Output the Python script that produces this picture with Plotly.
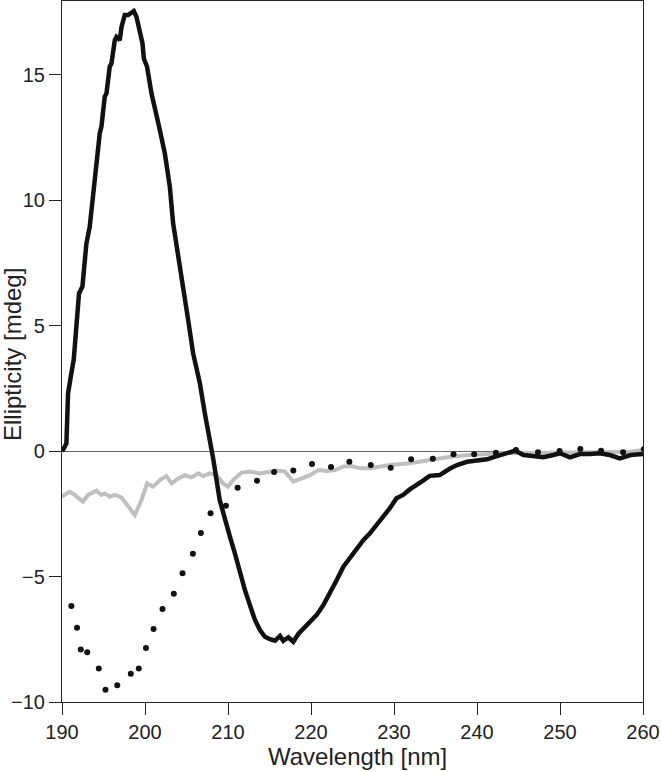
import plotly.graph_objects as go

# Solid black curve (wavelength nm, ellipticity mdeg)
black_x = [190.0, 190.12, 190.53, 190.73, 191.13, 191.41, 191.73, 192.05, 192.46, 192.94, 193.34,
           193.74, 194.07, 194.55, 194.75, 195.15, 195.36, 195.75, 195.96, 196.36, 196.56,
           196.96, 197.17, 197.56, 197.96, 198.25, 198.65, 198.97, 199.37, 199.7, 199.86,
           200.25, 200.78, 201.39, 201.7, 202.39, 202.99, 203.39, 203.99, 204.6, 205.2,
           205.8, 206.61, 207.21, 207.82, 208.21, 209.0, 209.8, 210.23, 210.83, 211.44,
           212.04, 212.64, 213.25, 213.85, 214.45, 215.05, 215.66, 216.26, 216.66, 217.27,
           217.87, 218.47, 219.07, 219.88, 220.69, 221.49, 222.29, 223.1, 223.9, 224.7,
           225.5, 226.3, 227.1, 227.9, 228.7, 229.5, 230.3, 231.1, 231.9, 232.7, 233.5,
           234.3, 235.5, 236.8, 237.6, 238.8, 240.0, 241.2, 242.4, 243.6, 244.6, 245.6,
           246.8, 248.0, 249.2, 250.0, 251.2, 252.4, 253.6, 254.8, 256.0, 257.2, 258.5, 260.0]
black_y = [0.0, 0.04, 0.3, 2.3, 3.1, 3.63, 4.95, 6.28, 6.55, 8.27, 8.94,
           10.27, 10.93, 12.66, 12.92, 14.12, 14.25, 15.31, 15.45, 16.37, 16.5,
           16.37, 16.9, 17.37, 17.37, 17.46, 17.53, 17.3, 16.77, 16.24, 15.64,
           15.31, 14.25, 13.45, 12.92, 11.86, 10.53, 9.07, 7.88, 6.55, 5.22,
           3.89, 2.7, 1.5, 0.44, -0.29, -1.95, -3.02, -3.41, -4.08, -4.87,
           -5.54, -6.14, -6.73, -7.13, -7.4, -7.5, -7.56, -7.37, -7.56, -7.42,
           -7.6, -7.29, -7.1, -6.8, -6.53, -6.14, -5.67, -5.14, -4.61, -4.27,
           -3.88, -3.55, -3.28, -2.95, -2.62, -2.28, -1.88, -1.75, -1.53, -1.33, -1.18,
           -0.99, -0.96, -0.69, -0.56, -0.43, -0.36, -0.33, -0.2, -0.09, 0.01, -0.16,
           -0.2, -0.25, -0.16, -0.09, -0.25, -0.12, -0.12, -0.09, -0.16, -0.29, -0.16, -0.12]

# Gray noisy curve
gray_x = [190.0, 190.93, 191.53, 192.53, 193.14, 194.15, 194.75, 195.15, 195.75, 196.36, 197.16,
          197.96, 198.77, 199.58, 200.25, 200.98, 201.79, 202.59, 203.2, 204.0, 204.8,
          205.6, 206.4, 207.0, 207.8, 208.6, 209.42, 210.0, 210.6, 211.64, 212.64,
          213.85, 214.85, 215.86, 216.86, 217.87, 218.88, 219.88, 220.88, 221.9, 222.9,
          223.9, 224.9, 225.9, 227.1, 229.5, 231.9, 234.3, 236.8, 239.2, 241.6,
          244.0, 246.5, 249.0, 251.5, 254.0, 256.5, 258.5, 260.0]
gray_y = [-1.82, -1.62, -1.75, -2.02, -1.75, -1.58, -1.75, -1.69, -1.82, -1.75, -1.85,
          -2.22, -2.55, -1.95, -1.29, -1.42, -1.16, -1.0, -1.29, -1.09, -0.96,
          -1.05, -0.89, -1.0, -0.89, -0.96, -1.29, -1.42, -1.16, -0.86, -0.82,
          -0.89, -0.82, -0.78, -0.82, -1.22, -1.09, -0.96, -0.76, -0.8, -0.76,
          -0.62, -0.6, -0.69, -0.69, -0.56, -0.49, -0.35, -0.23, -0.16, -0.12,
          -0.07, -0.08, -0.06, -0.06, -0.05, -0.04, -0.03, 0.04]

# Dotted series
dot_x = [191.13, 191.81, 192.26, 193.04, 194.43, 195.24, 196.66, 198.29, 199.25, 200.12,
         201.03, 202.11, 203.47, 204.52, 205.77, 206.73, 207.9, 209.75, 211.16, 213.49,
         215.56, 217.87, 220.12, 222.41, 224.62, 227.2, 229.6, 232.06, 234.68, 237.17,
         239.66, 242.28, 244.69, 247.35, 249.95, 252.45, 254.95, 257.6, 260.09]
dot_y = [-6.18, -7.04, -7.91, -8.02, -8.67, -9.51, -9.33, -8.87, -8.67, -7.85,
         -7.09, -6.29, -5.69, -4.87, -4.09, -3.27, -2.48, -2.18, -1.46, -1.18,
         -0.84, -0.78, -0.52, -0.64, -0.43, -0.56, -0.67, -0.33, -0.31, -0.13,
         -0.13, -0.07, 0.04, -0.05, 0.0, 0.08, 0.01, -0.05, 0.07]

x_ticks = [190, 200, 210, 220, 230, 240, 250, 260]
y_ticks = [-10, -5, 0, 5, 10, 15]
x_title = "Wavelength [nm]"
y_title = "Ellipticity [mdeg]"

font = "Liberation Sans, Arial, sans-serif"

fig = go.Figure()
fig.add_trace(go.Scatter(x=gray_x, y=gray_y, mode="lines",
                         line=dict(color="#bfbfbf", width=4), showlegend=False))
fig.add_trace(go.Scatter(x=dot_x, y=dot_y, mode="markers",
                         marker=dict(color="#111111", size=6), showlegend=False))
fig.add_trace(go.Scatter(x=black_x, y=black_y, mode="lines",
                         line=dict(color="#111111", width=4.5), showlegend=False))

fig.update_layout(
    width=661, height=772,
    margin=dict(l=62, r=18, t=1, b=70, autoexpand=False),
    paper_bgcolor="white", plot_bgcolor="white",
    font=dict(family=font, size=20, color="#222222"),
    xaxis=dict(range=[190, 260], tickvals=x_ticks, ticks="outside", ticklen=12,
               tickwidth=1.2, tickcolor="#222222", showgrid=False, zeroline=False,
               showline=True, linecolor="#222222", linewidth=1.2, mirror=True,
               automargin=False, tickfont=dict(size=20)),
    yaxis=dict(range=[-10, 17.93], tickvals=y_ticks, ticks="outside", ticklen=12,
               tickwidth=1.2, tickcolor="#222222", showgrid=False,
               zeroline=True, zerolinecolor="#666666", zerolinewidth=1,
               showline=True, linecolor="#222222", linewidth=1.2, mirror=True,
               automargin=False, tickfont=dict(size=20)),
    annotations=[
        dict(text=x_title, xref="paper", yref="paper", x=0.509, y=-0.0775,
             xanchor="center", yanchor="middle", showarrow=False, borderpad=0,
             font=dict(size=24, family=font, color="#222222")),
        dict(text=y_title, xref="paper", yref="paper", x=-0.086, y=0.495,
             xanchor="center", yanchor="middle", showarrow=False, textangle=-90,
             borderpad=0, font=dict(size=24, family=font, color="#222222")),
    ],
)

fig.write_html("out.html", config={"displayModeBar": False},
               post_script="document.body.style.margin='0';document.body.style.overflow='hidden';")
